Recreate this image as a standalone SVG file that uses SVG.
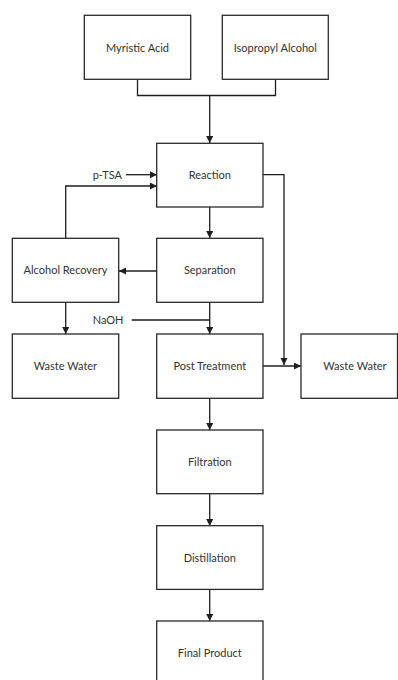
<svg xmlns="http://www.w3.org/2000/svg" width="398" height="680" viewBox="0 0 398 680">
<style>
.box{fill:#fff;stroke:#2a2a2a;stroke-width:1.3}
.lbl{font-family:Lato,"Liberation Sans",sans-serif;font-size:11px;fill:#333;text-anchor:middle}
.side{font-family:Lato,"Liberation Sans",sans-serif;font-size:11px;fill:#333}
.ln{fill:none;stroke:#1e1e1e;stroke-width:1.3}
</style>
<defs>
<marker id="ah" markerUnits="userSpaceOnUse" markerWidth="8" markerHeight="8" refX="7" refY="3.5" orient="auto">
<path d="M0,0 L7,3.5 L0,7 z" fill="#1e1e1e"/>
</marker>
</defs>
<rect width="398" height="680" fill="#fff"/>
<g id="connectors">
<path class="ln" d="M137.5,79.5 V95.5 H275.5 V79.5"/>
<path class="ln" d="M209.7,95.5 V143" marker-end="url(#ah)"/>
<path class="ln" d="M126,174.7 H157" marker-end="url(#ah)"/>
<path class="ln" d="M65.7,238 V186 H157" marker-end="url(#ah)"/>
<path class="ln" d="M263,174.7 H284 V365" marker-end="url(#ah)"/>
<path class="ln" d="M209.7,207 V238" marker-end="url(#ah)"/>
<path class="ln" d="M157,271 H119" marker-end="url(#ah)"/>
<path class="ln" d="M65.7,302 V334" marker-end="url(#ah)"/>
<path class="ln" d="M209.7,302 V334" marker-end="url(#ah)"/>
<path class="ln" d="M131.7,320 H209.7"/>
<path class="ln" d="M263,366 H301" marker-end="url(#ah)"/>
<path class="ln" d="M209.7,398 V430" marker-end="url(#ah)"/>
<path class="ln" d="M209.7,494 V526" marker-end="url(#ah)"/>
<path class="ln" d="M209.7,590 V621" marker-end="url(#ah)"/>
<text class="side" x="92.7" y="178.5">p-TSA</text>
<text class="side" x="92.7" y="324">NaOH</text>
</g>
<g id="myristic"><rect class="box" x="84.3" y="15.3" width="106.4" height="64"/><text class="lbl" x="137.5" y="51.5">Myristic Acid</text></g>
<g id="isopropyl"><rect class="box" x="222.3" y="15.3" width="106" height="64"/><text class="lbl" x="275.3" y="51.5">Isopropyl Alcohol</text></g>
<g id="reaction"><rect class="box" x="156.7" y="143.3" width="106.3" height="63.7"/><text class="lbl" x="209.8" y="179">Reaction</text></g>
<g id="alcohol-recovery"><rect class="box" x="12.3" y="238.3" width="106.4" height="64"/><text class="lbl" x="65.5" y="274">Alcohol Recovery</text></g>
<g id="separation"><rect class="box" x="156.7" y="238.3" width="106.3" height="64"/><text class="lbl" x="209.8" y="274">Separation</text></g>
<g id="waste-water-left"><rect class="box" x="12.3" y="334" width="106.4" height="64.3"/><text class="lbl" x="65.5" y="370">Waste Water</text></g>
<g id="post-treatment"><rect class="box" x="156.7" y="334" width="106.3" height="64.3"/><text class="lbl" x="209.8" y="370">Post Treatment</text></g>
<g id="waste-water-right"><rect class="box" x="301" y="334" width="96.5" height="64.3"/><text class="lbl" x="355" y="370">Waste Water</text></g>
<g id="filtration"><rect class="box" x="156.7" y="430" width="106.3" height="63.7"/><text class="lbl" x="209.8" y="466">Filtration</text></g>
<g id="distillation"><rect class="box" x="156.7" y="525.7" width="106.3" height="63.7"/><text class="lbl" x="209.8" y="561.5">Distillation</text></g>
<g id="final-product"><rect class="box" x="156.7" y="621" width="106.3" height="64"/><text class="lbl" x="209.8" y="657">Final Product</text></g>
</svg>
